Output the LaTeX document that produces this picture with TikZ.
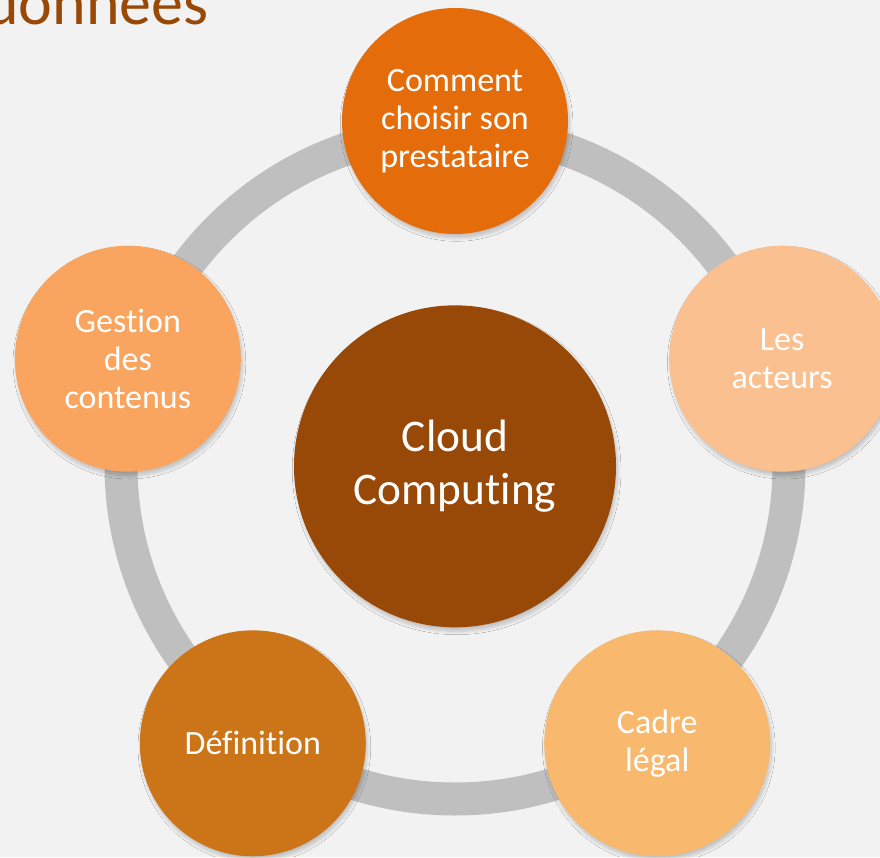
\documentclass[tikz,border=0pt]{standalone}
\usepackage{fontspec}
\setmainfont{Carlito}[Ligatures=NoCommon]
\usetikzlibrary{shadows.blur}

% Couleurs du theme
\definecolor{fond}{HTML}{F2F2F2}
\definecolor{anneau}{HTML}{BFBFBF}
\definecolor{brun}{HTML}{984807}
\definecolor{orangefonce}{HTML}{E46C0A}
\definecolor{orangeclair}{HTML}{FAC090}
\definecolor{orangesable}{HTML}{F8B96E}
\definecolor{orangemoyen}{HTML}{CC7418}
\definecolor{saumon}{HTML}{F9A55F}

\tikzset{
  bulle/.style={circle, minimum size=169.5pt, inner sep=0pt, text=white, align=center,
    font=\fontsize{25.5}{28.5}\selectfont,
    blur shadow={shadow xshift=1.2pt, shadow yshift=-3pt, shadow opacity=20,
      shadow blur radius=2.5pt, shadow blur steps=8}},
  coeur/.style={bulle, minimum size=241.5pt, font=\fontsize{34}{40}\selectfont},
  titre/.style={text=brun, font=\fontsize{48}{56}\selectfont, inner sep=0pt}
}

\begin{document}
\begin{tikzpicture}[x=0.75pt,y=0.75pt]
        % Cadre de la diapositive
        \useasboundingbox (0,0) rectangle (880,857);
        \fill[fond] (0,0) rectangle (880,857);
        \clip (0,0) rectangle (880,857);

        % Centre du cycle
        \coordinate (O) at (455,392);

        % Titre coupe en haut
        \node[titre, anchor=base east] (titre) at (209,832) {données};

        % Anneau gris
        \draw[anneau, line width=24.75pt] (O) circle (334);

        % Les cinq bulles autour de l'anneau
        \node[bulle, fill=orangefonce] (choix) at ([shift={(90:344)}]O) {Comment\\choisir son\\prestataire};
        \node[bulle, fill=orangeclair] (acteurs) at ([shift={(18:344)}]O) {Les\\acteurs};
        \node[bulle, fill=orangesable] (cadre) at ([shift={(-54:344)}]O) {Cadre\\légal};
        \node[bulle, fill=orangemoyen] (definition) at ([shift={(234:344)}]O) {Définition};
        \node[bulle, fill=saumon] (gestion) at ([shift={(162:344)}]O) {Gestion\\des\\contenus};

        % Bulle centrale
        \node[coeur, fill=brun] (cloud) at ([yshift=-1]O) {Cloud\\Computing};
\end{tikzpicture}
\end{document}
